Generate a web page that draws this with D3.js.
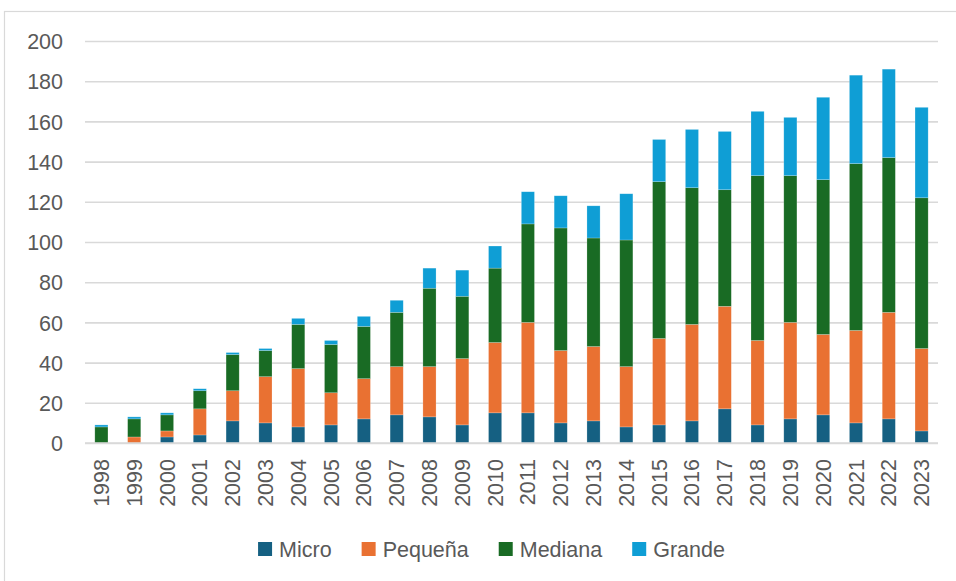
<!DOCTYPE html>
<html>
<head>
<meta charset="utf-8">
<script src="https://cdn.jsdelivr.net/npm/d3@7"></script>
<style>
  html, body { margin: 0; padding: 0; background: #fff; }
  svg text { font-family: "Liberation Sans", Arial, sans-serif; fill: #595959; }
</style>
</head>
<body>
<svg id="chart" width="956" height="581"></svg>
<script>
const years = ["1998","1999","2000","2001","2002","2003","2004","2005","2006","2007","2008","2009","2010",
  "2011","2012","2013","2014","2015","2016","2017","2018","2019","2020","2021","2022","2023"];
const seriesNames = ["Micro", "Pequeña", "Mediana", "Grande"];
const micro   = [0, 0, 3, 4, 11, 10, 8, 9, 12, 14, 13, 9, 15, 15, 10, 11, 8, 9, 11, 17, 9, 12, 14, 10, 12, 6];
const pequena = [0, 3, 3, 13, 15, 23, 29, 16, 20, 24, 25, 33, 35, 45, 36, 37, 30, 43, 48, 51, 42, 48, 40, 46, 53, 41];
const mediana = [8, 9, 8, 9, 18, 13, 22, 24, 26, 27, 39, 31, 37, 49, 61, 54, 63, 78, 68, 58, 82, 73, 77, 83, 77, 75];
const grande  = [1, 1, 1, 1, 1, 1, 3, 2, 5, 6, 10, 13, 11, 16, 16, 16, 23, 21, 29, 29, 32, 29, 41, 44, 44, 45];
const yTicks = [0, 20, 40, 60, 80, 100, 120, 140, 160, 180, 200];
const colors = ["#156082", "#E97132", "#196B24", "#0F9ED5"];

const table = years.map((yr, i) => ({
  year: yr, "Micro": micro[i], "Pequeña": pequena[i], "Mediana": mediana[i], "Grande": grande[i]
}));

const svg = d3.select("#chart");
const fontSize = 21.5;

// outer chart border (extends past the page edges as in the reference)
svg.append("rect").attr("x", 4.5).attr("y", 11.5).attr("width", 1200).attr("height", 1200)
  .attr("fill", "none").attr("stroke", "#d9d9d9").attr("stroke-width", 1.2);

const plotLeft = 85, plotRight = 938, plotTop = 41, plotBottom = 443;
const x = d3.scaleBand().domain(years).range([plotLeft, plotRight]).paddingInner(0.6).paddingOuter(0.3);
const y = d3.scaleLinear().domain([0, 200]).range([plotBottom, plotTop]);

// gridlines + y labels
const yAxis = d3.axisLeft(y).tickValues(yTicks).tickSize(-(plotRight - plotLeft)).tickPadding(22).tickFormat(d3.format("d"));
const gy = svg.append("g").attr("transform", `translate(${plotLeft},0)`).call(yAxis);
gy.select(".domain").remove();
gy.selectAll(".tick line").attr("stroke", "#d9d9d9").attr("stroke-width", 1.6);
gy.selectAll(".tick text").attr("font-size", fontSize).attr("fill", "#595959")
  .attr("font-family", "Liberation Sans, Arial, sans-serif").attr("dy", "0.36em");

// stacked bars
const stacked = d3.stack().keys(seriesNames)(table);
svg.append("g").selectAll("g").data(stacked).join("g")
  .attr("fill", (d, i) => colors[i])
  .selectAll("rect").data(d => d).join("rect")
  .attr("x", d => x(d.data.year))
  .attr("width", x.bandwidth())
  .attr("y", d => y(d[1]))
  .attr("height", d => Math.max(0, y(d[0]) - y(d[1])))
  .attr("stroke", "#ffffff").attr("stroke-opacity", 0.35).attr("stroke-width", 0.6);

// x axis
const xAxis = d3.axisBottom(x).tickSize(0).tickPadding(0);
const gx = svg.append("g").attr("transform", `translate(0,${plotBottom})`).call(xAxis);
gx.select(".domain").attr("stroke", "#d9d9d9").attr("stroke-width", 1.6)
  .attr("d", `M${plotLeft},0H${plotRight}`);
gx.selectAll(".tick text")
  .attr("font-size", fontSize).attr("fill", "#595959")
  .attr("font-family", "Liberation Sans, Arial, sans-serif")
  .attr("text-anchor", "end")
  .attr("transform", "translate(0,16) rotate(-90)")
  .attr("dx", 0).attr("dy", "0.35em").attr("y", 0);

// legend
const legend = svg.append("g");
const items = legend.selectAll("g").data(seriesNames).join("g");
items.append("rect").attr("width", 14).attr("height", 14).attr("y", -7)
  .attr("fill", (d, i) => colors[i]);
items.append("text").text(d => d).attr("x", 21).attr("dy", "0.36em")
  .attr("font-size", fontSize);
const gap = 30;
let cx = 0;
items.each(function() {
  const w = 21 + this.querySelector("text").getComputedTextLength();
  d3.select(this).attr("transform", `translate(${cx},0)`);
  cx += w + gap;
});
const total = cx - gap;
legend.attr("transform", `translate(${491.5 - total / 2},549)`);
</script>
</body>
</html>
